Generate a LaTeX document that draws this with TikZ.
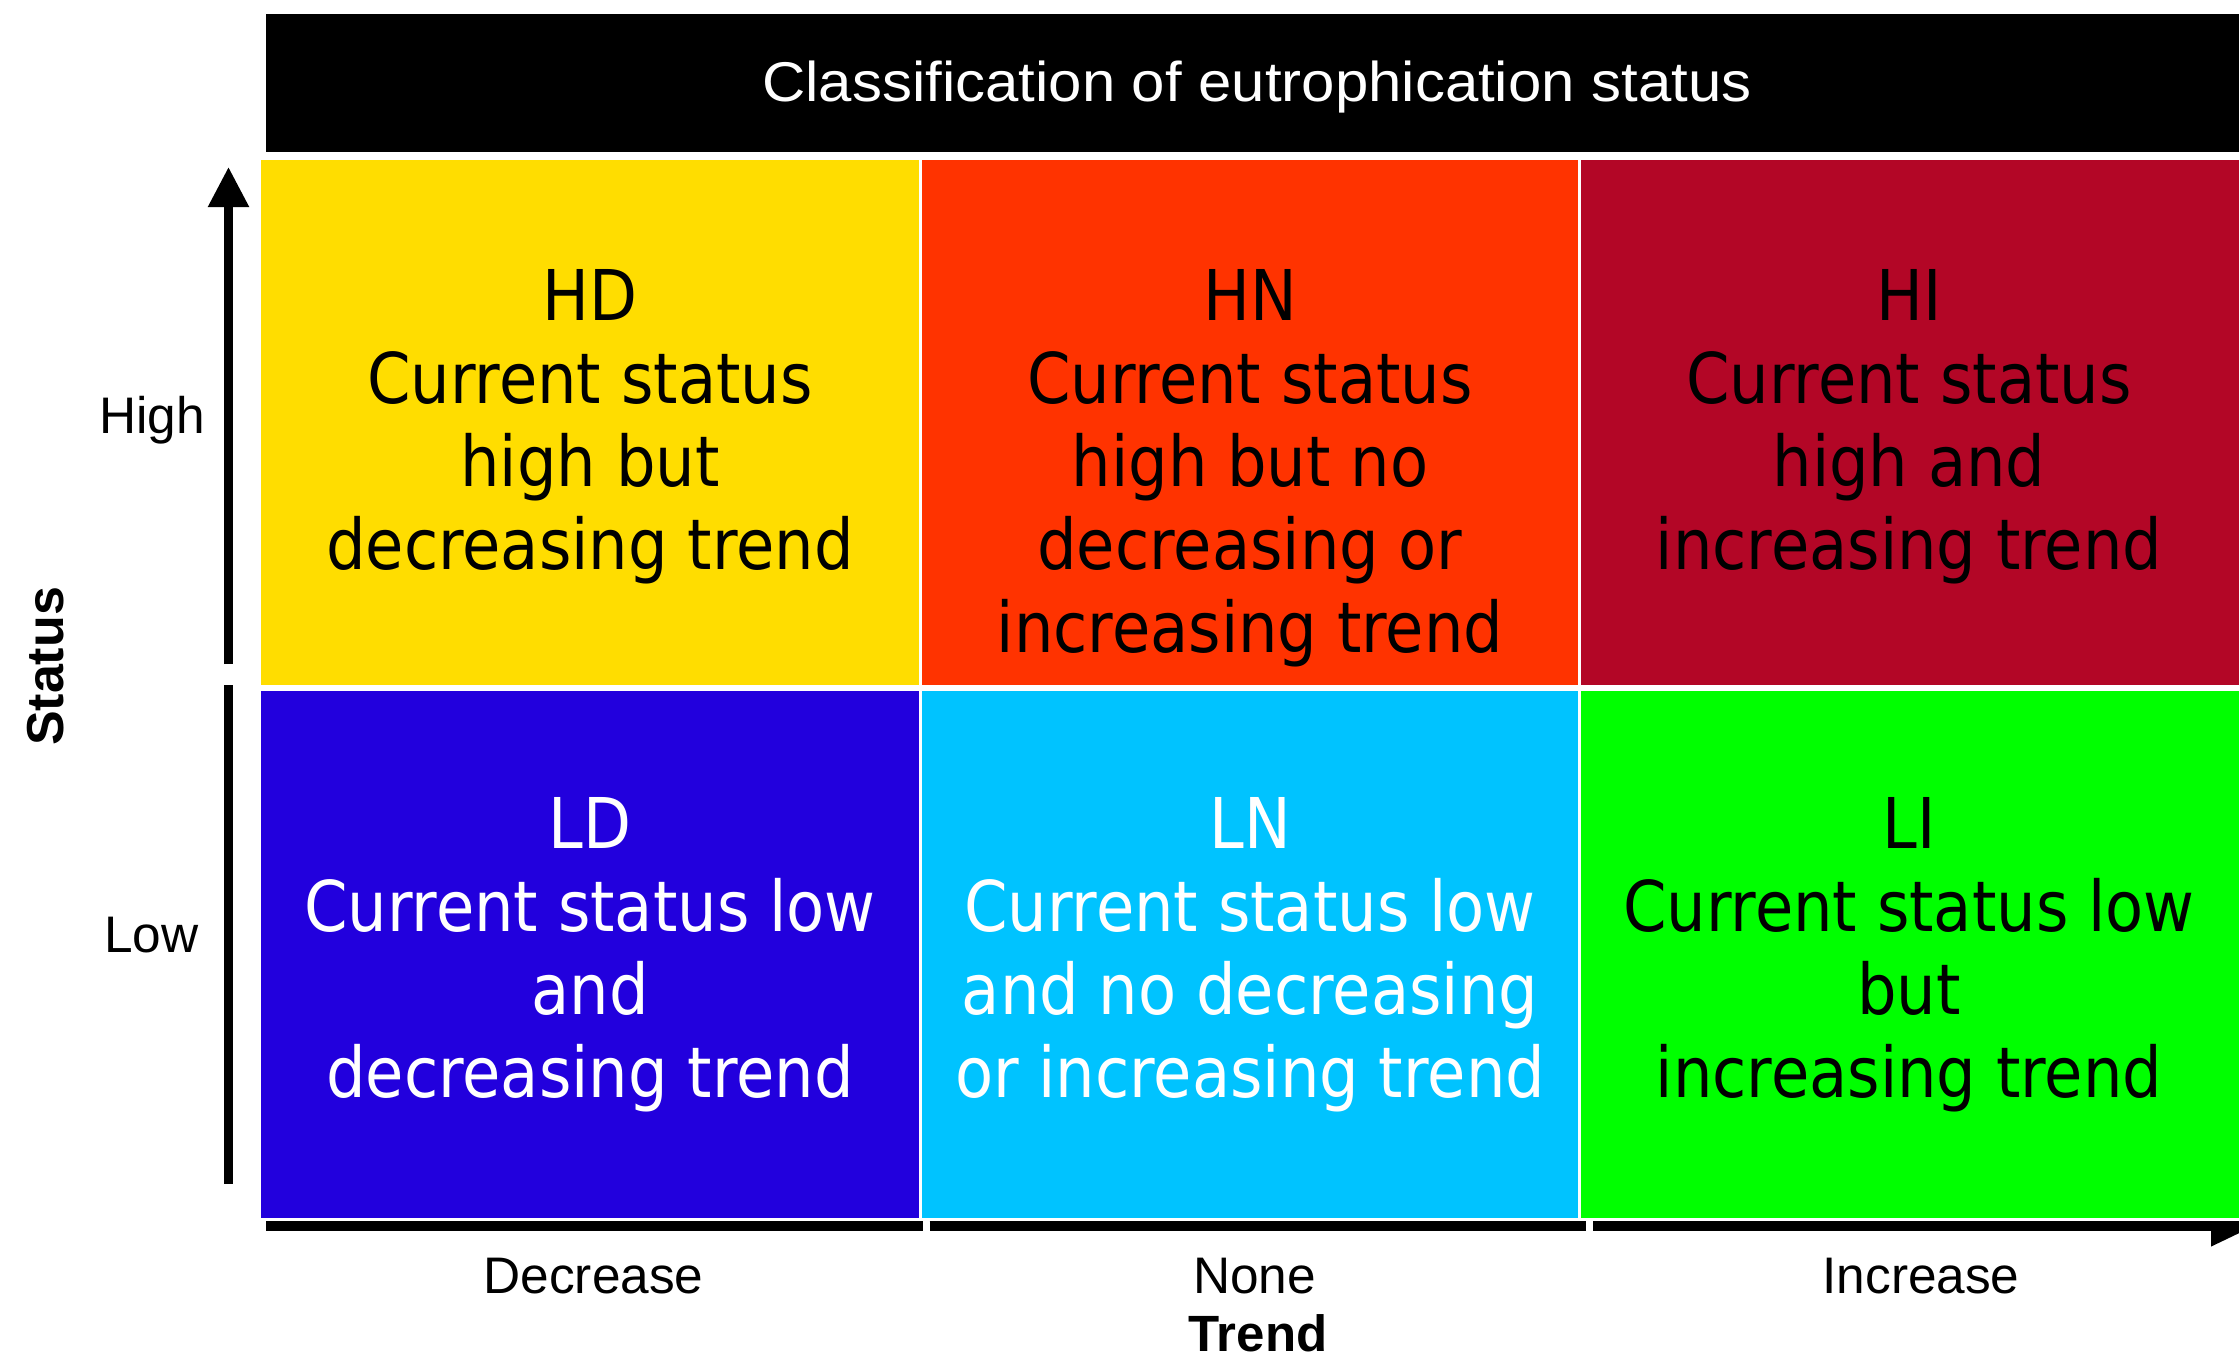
\documentclass[tikz,border=0pt]{standalone}
\usepackage{fontspec}
\setmainfont{Liberation Sans}
\newfontfamily\cellfont{DejaVu Sans}[FakeStretch=0.89]
\newfontfamily\titlefont{Liberation Sans}[FakeStretch=1.07]
\usetikzlibrary{arrows.meta}
\definecolor{cyel}{HTML}{FFDD00}
\definecolor{corange}{HTML}{FF3300}
\definecolor{cdred}{HTML}{B30626}
\definecolor{cblue}{HTML}{2200DD}
\definecolor{ccyan}{HTML}{00C3FF}
\definecolor{cgreen}{HTML}{00FF00}
\begin{document}
\begin{tikzpicture}[x=0.5pt,y=-0.5pt,
  cellbox/.style={rectangle, draw=white, line width=1.5pt, inner sep=0pt},
  celltext/.style={font=\cellfont\fontsize{35pt}{41.5pt}\selectfont, align=center, inner sep=0pt, anchor=north},
  axislabel/.style={font=\fontsize{25.7pt}{30pt}\selectfont, inner sep=0pt, anchor=base},
  axisbold/.style={font=\bfseries\fontsize{26pt}{30pt}\selectfont, inner sep=0pt, anchor=base},
  vaxis/.style={line width=4.25pt},
  haxis/.style={line width=5pt}]
\useasboundingbox (0,0) rectangle (2239,1360);

% axis coordinates
\coordinate (v1s) at (228.5,664);
\coordinate (v1e) at (228.5,167);
\coordinate (v2s) at (228.5,685);
\coordinate (v2e) at (228.5,1184);
\coordinate (h1s) at (266,1226);
\coordinate (h1e) at (923,1226);
\coordinate (h2s) at (929.5,1226);
\coordinate (h2e) at (1586,1226);
\coordinate (h3s) at (1593,1226);
\coordinate (h3e) at (2255,1226);

\draw[vaxis, -{Triangle[length=20pt,width=19.5pt]}] (v1s) -- (v1e);
\draw[vaxis] (v2s) -- (v2e);
\draw[haxis] (h1s) -- (h1e);
\draw[haxis] (h2s) -- (h2e);
\draw[haxis, -{Triangle[length=22pt,width=19pt]}] (h3s) -- (h3e);

% cells
\node[cellbox, fill=cyel,    minimum width=330.25pt, minimum height=264pt] (hd) at (589.75,422.5) {};
\node[cellbox, fill=corange, minimum width=329.5pt,  minimum height=264pt] (hn) at (1249.5,422.5) {};
\node[cellbox, fill=cdred,   minimum width=330.75pt, minimum height=264pt] (hi) at (1909.75,422.5) {};
\node[cellbox, fill=cblue,   minimum width=330.25pt, minimum height=265pt] (ld) at (589.75,954.5) {};
\node[cellbox, fill=ccyan,   minimum width=329.5pt,  minimum height=265pt] (ln) at (1249.5,954.5) {};
\node[cellbox, fill=cgreen,  minimum width=330.75pt, minimum height=265pt] (li) at (1909.75,954.5) {};

% title bar
\node[rectangle, fill=black, inner sep=0pt, minimum width=990pt, minimum height=69pt] (bar) at (1256,82.5) {};
\node[font=\titlefont\fontsize{28pt}{32pt}\selectfont, text=white, inner sep=0pt, anchor=base] (title) at (1257,101) {Classification of eutrophication status};

% cell texts
\node[celltext, text=black] (hdt) at (590,269) {HD\\Current status\\high but\\decreasing trend};
\node[celltext, text=black] (hnt) at (1250,269) {HN\\Current status\\high but no\\decreasing or\\increasing trend};
\node[celltext, text=black] (hit) at (1909,269) {HI\\Current status\\high and\\increasing trend};
\node[celltext, text=white] (ldt) at (590,797) {LD\\Current status low\\and\\decreasing trend};
\node[celltext, text=white] (lnt) at (1250,797) {LN\\Current status low\\and no decreasing\\or increasing trend};
\node[celltext, text=black] (lit) at (1909,797) {LI\\Current status low\\but\\increasing trend};

% axis labels
\node[axislabel] (high) at (152,433) {High};
\node[axislabel] (low) at (151.5,952) {Low};
\node[axisbold, rotate=90] (status) at (63,666.5) {Status};
\node[axislabel] (dec) at (593.5,1293) {Decrease};
\node[axislabel] (none) at (1254.5,1293) {None};
\node[axislabel] (inc) at (1921,1293) {Increase};
\node[axisbold, font=\bfseries\fontsize{25.5pt}{30pt}\selectfont] (trend) at (1258,1351) {Trend};
\end{tikzpicture}
\end{document}
